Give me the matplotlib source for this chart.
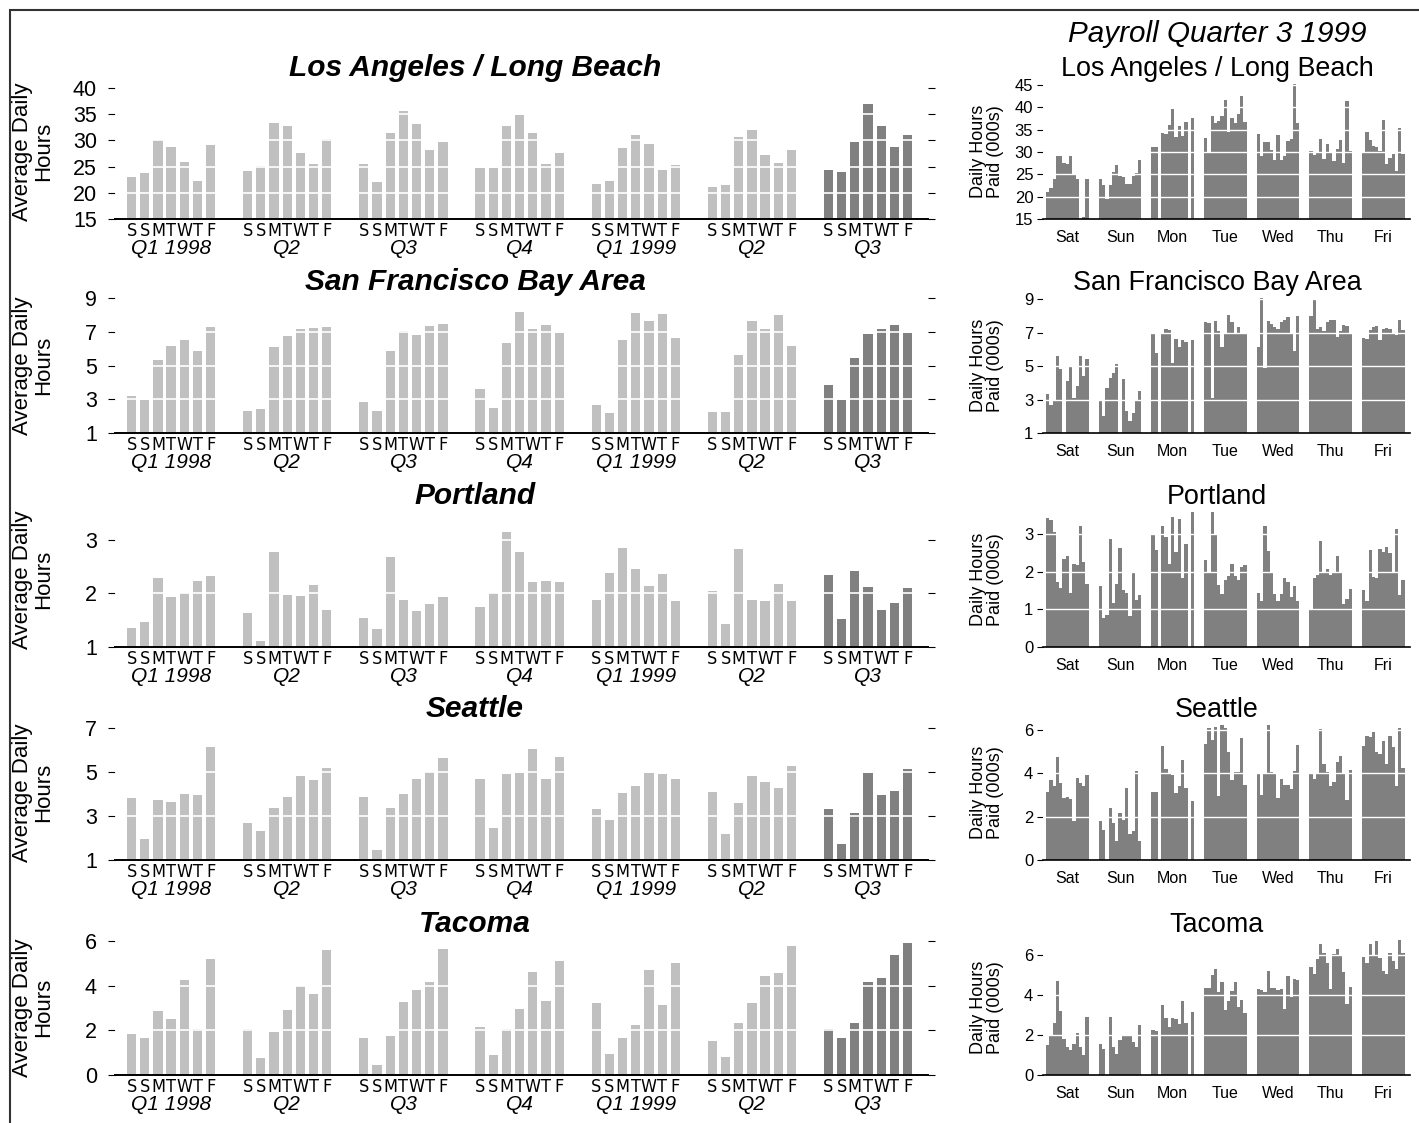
import matplotlib
matplotlib.use("Agg")
import matplotlib.pyplot as plt
from matplotlib.patches import Rectangle
import numpy as np

plt.rcParams['font.family'] = ['Liberation Sans', 'DejaVu Sans']

W, H = 1419, 1123

cities = ["Los Angeles / Long Beach", "San Francisco Bay Area", "Portland", "Seattle", "Tacoma"]
quarters = ["Q1 1998", "Q2", "Q3", "Q4", "Q1 1999", "Q2", "Q3"]
day_letters = ["S", "S", "M", "T", "W", "T", "F"]
day_names = ["Sat", "Sun", "Mon", "Tue", "Wed", "Thu", "Fri"]

# Quarterly average daily hours (one list of Sat..Fri per quarter)
la_quarterly = [
    [23.1, 23.7, 30.1, 28.7, 25.8, 22.3, 29.1],
    [24.2, 25.2, 33.3, 32.8, 27.6, 25.5, 30.2],
    [25.5, 22.1, 31.4, 35.6, 33.2, 28.1, 29.6],
    [24.8, 24.8, 32.7, 34.8, 31.5, 25.4, 27.6],
    [21.6, 22.3, 28.6, 31.1, 29.4, 24.4, 25.3],
    [21.2, 21.4, 30.7, 31.9, 27.2, 25.7, 28.2],
    [24.3, 23.9, 29.6, 36.9, 32.7, 28.7, 31.0],
]
sf_quarterly = [
    [3.22, 2.94, 5.33, 6.15, 6.51, 5.85, 7.31],
    [2.28, 2.40, 6.07, 6.73, 7.15, 7.23, 7.27],
    [2.86, 2.32, 5.85, 7.05, 6.81, 7.37, 7.47],
    [3.60, 2.46, 6.33, 8.17, 7.19, 7.39, 6.95],
    [2.64, 2.16, 6.49, 8.09, 7.63, 8.03, 6.65],
    [2.24, 2.24, 5.65, 7.63, 7.17, 7.99, 6.17],
    [3.87, 2.98, 5.47, 6.87, 7.15, 7.41, 6.93],
]
portland_quarterly = [
    [1.35, 1.47, 2.28, 1.94, 2.00, 2.24, 2.32],
    [1.63, 1.12, 2.77, 1.98, 1.95, 2.15, 1.70],
    [1.55, 1.33, 2.68, 1.87, 1.67, 1.80, 1.93],
    [1.75, 2.00, 3.15, 2.77, 2.22, 2.24, 2.21],
    [1.88, 2.38, 2.85, 2.45, 2.13, 2.37, 1.85],
    [2.05, 1.43, 2.83, 1.87, 1.85, 2.17, 1.85],
    [2.35, 1.53, 2.42, 2.12, 1.70, 1.83, 2.10],
]
seattle_quarterly = [
    [3.80, 1.95, 3.73, 3.62, 4.02, 3.97, 6.15],
    [2.70, 2.30, 3.38, 3.85, 4.80, 4.65, 5.20],
    [3.85, 1.45, 3.35, 4.00, 4.70, 4.98, 5.62],
    [4.68, 2.45, 4.90, 4.95, 6.05, 4.70, 5.68],
    [3.33, 2.80, 4.03, 4.38, 4.97, 4.92, 4.70],
    [4.10, 2.17, 3.58, 4.80, 4.55, 4.28, 5.28],
    [3.33, 1.72, 3.13, 4.95, 3.95, 4.12, 5.12],
]
tacoma_quarterly = [
    [1.85, 1.68, 2.85, 2.50, 4.25, 2.07, 5.18],
    [2.07, 0.75, 1.92, 2.90, 4.00, 3.62, 5.60],
    [1.65, 0.45, 1.73, 3.28, 3.80, 4.18, 5.65],
    [2.15, 0.88, 2.05, 2.98, 4.62, 3.30, 5.12],
    [3.22, 0.95, 1.65, 2.25, 4.72, 3.15, 5.00],
    [1.53, 0.80, 2.35, 3.22, 4.45, 4.55, 5.80],
    [2.07, 1.68, 2.35, 4.15, 4.35, 5.40, 5.90],
]

# Daily hours paid (000s), Q3 1999, 13 weeks per weekday (Sat..Fri)
la_daily = [
    [21.1, 21.9, 23.9, 29.1, 29.0, 27.5, 27.2, 29.1, 24.9, 23.9, 0, 15.4, 24.0],
    [23.9, 22.5, 19.5, 22.5, 25.5, 27.0, 24.6, 24.5, 22.9, 22.9, 24.6, 25.2, 28.1],
    [31.0, 31.2, 0, 34.2, 34.0, 36.0, 39.6, 33.3, 35.8, 33.5, 36.6, 0, 37.7],
    [33.1, 29.7, 38.0, 36.5, 37.0, 38.0, 41.6, 34.5, 37.5, 36.5, 38.6, 42.5, 36.6],
    [34.0, 29.0, 32.3, 32.3, 30.5, 28.3, 33.8, 28.2, 29.2, 32.5, 32.8, 45.1, 36.4],
    [30.3, 29.3, 30.0, 32.8, 28.5, 31.8, 30.0, 28.0, 30.7, 32.6, 27.6, 41.4, 30.3],
    [30.1, 34.5, 32.6, 31.3, 31.2, 30.2, 37.2, 27.4, 28.6, 29.5, 25.8, 35.4, 29.6],
]
sf_daily = [
    [3.3, 2.7, 3.0, 5.6, 4.8, 0, 4.1, 5.0, 3.1, 3.8, 5.6, 4.4, 5.4],
    [3.0, 2.0, 3.7, 4.3, 4.6, 5.1, 0, 4.2, 2.3, 1.7, 2.2, 2.9, 3.5],
    [6.95, 5.8, 0, 6.9, 7.2, 7.15, 5.2, 6.6, 6.15, 6.55, 6.45, 0, 6.55],
    [7.6, 7.55, 3.1, 7.7, 7.1, 6.15, 6.95, 8.05, 7.65, 7.0, 7.35, 6.9, 6.9],
    [6.15, 9.05, 4.9, 7.7, 7.5, 7.35, 7.2, 7.6, 7.75, 7.9, 6.9, 5.9, 8.0],
    [8.0, 8.95, 7.2, 7.3, 7.1, 7.65, 7.75, 7.75, 6.75, 7.1, 7.45, 7.4, 6.95],
    [6.7, 6.6, 7.15, 7.3, 7.4, 6.55, 7.2, 7.25, 7.2, 6.9, 6.85, 7.75, 7.15],
]
portland_daily = [
    [3.42, 3.37, 3.05, 1.73, 1.57, 2.33, 2.40, 1.44, 2.20, 2.18, 3.20, 2.25, 1.68],
    [1.63, 0.77, 0.85, 2.87, 1.18, 1.67, 2.62, 1.52, 1.42, 0.83, 2.00, 1.25, 1.38],
    [2.97, 2.57, 0, 3.22, 2.93, 2.20, 3.45, 2.52, 3.40, 1.82, 2.72, 0, 3.61],
    [2.30, 2.00, 3.57, 2.98, 1.65, 1.40, 1.77, 1.88, 2.20, 1.87, 1.77, 2.12, 2.18],
    [1.43, 1.22, 3.20, 2.55, 1.98, 1.41, 1.22, 1.41, 1.84, 1.73, 1.32, 1.61, 1.22],
    [0.98, 1.84, 1.92, 2.80, 1.97, 2.08, 1.90, 1.97, 2.42, 1.97, 1.15, 1.27, 1.53],
    [1.50, 1.22, 2.57, 1.85, 1.83, 2.59, 2.52, 2.64, 2.48, 2.00, 3.13, 1.37, 1.77],
]
seattle_daily = [
    [3.15, 3.70, 3.40, 4.77, 3.57, 2.85, 2.90, 2.80, 1.80, 3.80, 3.57, 3.40, 3.92],
    [1.80, 1.37, 0, 2.42, 1.73, 0.87, 2.16, 1.85, 3.33, 1.18, 1.33, 4.10, 0.87],
    [3.15, 3.12, 0, 5.25, 4.18, 3.95, 3.90, 3.10, 3.40, 4.60, 3.30, 0, 2.72],
    [5.37, 6.10, 5.55, 6.15, 2.95, 6.28, 6.10, 5.00, 3.68, 4.05, 4.05, 5.65, 3.45],
    [4.02, 3.02, 4.00, 6.28, 4.05, 3.95, 2.88, 3.75, 3.45, 3.47, 3.27, 4.10, 5.30],
    [3.98, 3.72, 3.98, 6.05, 4.45, 4.08, 3.43, 3.58, 4.50, 4.82, 4.00, 2.78, 4.15],
    [5.28, 5.72, 5.68, 5.90, 5.00, 4.88, 5.48, 4.45, 5.72, 5.20, 3.43, 6.08, 4.25],
]
tacoma_daily = [
    [1.50, 1.95, 2.62, 4.70, 3.20, 1.80, 1.38, 1.27, 1.55, 2.10, 1.40, 1.02, 2.88],
    [1.55, 1.30, 0, 2.90, 1.42, 1.07, 1.75, 1.93, 1.93, 1.93, 1.65, 1.38, 2.52],
    [2.27, 2.20, 0, 3.50, 2.85, 2.42, 2.85, 2.78, 2.55, 3.72, 2.62, 0, 3.15],
    [4.35, 4.37, 5.00, 5.30, 4.15, 4.65, 3.25, 3.68, 4.20, 4.65, 3.42, 3.77, 3.10],
    [4.30, 4.25, 4.15, 5.20, 4.35, 4.33, 4.25, 4.30, 3.30, 4.97, 3.90, 4.78, 4.77],
    [5.38, 5.07, 5.78, 6.55, 6.08, 5.60, 4.30, 6.05, 6.30, 6.00, 5.15, 3.55, 4.42],
    [5.88, 5.62, 6.55, 5.95, 6.68, 5.85, 5.22, 5.07, 6.12, 5.72, 5.28, 6.85, 6.12],
]

quarterly = [la_quarterly, sf_quarterly, portland_quarterly, seattle_quarterly, tacoma_quarterly]
daily = [la_daily, sf_daily, portland_daily, seattle_daily, tacoma_daily]

left_ylims = [(15, 40.76), (1, 9.0), (1, 3.52), (1, 7.14), (0, 6.05)]
left_ticks = [[15, 20, 25, 30, 35, 40], [1, 3, 5, 7, 9], [1, 2, 3], [1, 3, 5, 7], [0, 2, 4, 6]]
right_ylims = [(15, 45.2), (1, 9.06), (0, 3.58), (0, 6.23), (0, 6.75)]
right_ticks = [[15, 20, 25, 30, 35, 40, 45], [1, 3, 5, 7, 9], [0, 1, 2, 3], [0, 2, 4, 6], [0, 2, 4, 6]]

LIGHT = "#c0c0c0"
DARK = "#808080"

fig = plt.figure(figsize=(W / 100, H / 100), dpi=100)


def rect(x0, x1, top, bottom):
    return [x0 / W, 1 - bottom / H, (x1 - x0) / W, (bottom - top) / H]


row_bottoms = [219, 433, 647, 860, 1075]
AX_H = 135
GROUP_L = 8.8
GROUP_R = 16

for i, city in enumerate(cities):
    b = row_bottoms[i]
    # ---------------- left: quarterly averages
    ax = fig.add_axes(rect(115, 928, b - AX_H, b))
    centers = []
    for g, vals in enumerate(quarterly[i]):
        xs = g * GROUP_L + np.arange(7)
        centers.extend(xs)
        ax.bar(xs, vals, width=0.7, color=DARK if g == 6 else LIGHT,
               linewidth=0, zorder=2)
    ax.set_xlim(-1.25, 60.34)
    ax.set_ylim(*left_ylims[i])
    ax.set_yticks(left_ticks[i])
    ax.set_yticklabels([str(t) for t in left_ticks[i]], fontsize=15.5)
    for t in left_ticks[i][1:]:
        ax.axhline(t, color="white", lw=1.2, zorder=3)
    ax.set_xticks(centers)
    ax.set_xticklabels(day_letters * 7, fontsize=13, family="DejaVu Sans",
                       fontstretch="condensed")
    ax.tick_params(axis="x", length=0, pad=2)
    ax.tick_params(axis="y", left=True, right=True, labelright=False,
                   length=5, width=0.8, pad=8, direction="out")
    for s in ["top", "left", "right"]:
        ax.spines[s].set_visible(False)
    ax.spines["bottom"].set_linewidth(1.4)
    ax.spines["bottom"].set_zorder(4)
    for g, q in enumerate(quarters):
        ax.annotate(q, xy=(g * GROUP_L + 3, 0), xycoords=("data", "axes fraction"),
                    xytext=(0, -25), textcoords="offset points",
                    ha="center", va="baseline", fontsize=15, style="italic")
    fig.text(475 / W, 1 - (b - 143) / H, city, ha="center", va="baseline",
             fontsize=21.5, fontweight="bold", style="italic")
    fig.text(33 / W, 1 - (b - AX_H / 2) / H, "Average Daily\nHours", rotation=90,
             ha="center", va="center", fontsize=16, linespacing=1.0)

    # ---------------- right: daily values in Q3 1999
    axr = fig.add_axes(rect(1043, 1410, b - AX_H, b))
    for g, vals in enumerate(daily[i]):
        xs = g * GROUP_R + np.arange(13)
        axr.bar(xs, vals, width=1.0, color=DARK, linewidth=0, zorder=2)
    axr.set_xlim(-1.41, 110.1)
    axr.set_ylim(*right_ylims[i])
    axr.set_yticks(right_ticks[i])
    axr.set_yticklabels([str(t) for t in right_ticks[i]], fontsize=12)
    for t in right_ticks[i][1:]:
        axr.axhline(t, color="white", lw=1.0, zorder=3)
    axr.set_xticks([g * GROUP_R + 6 for g in range(7)])
    axr.set_xticklabels(day_names, fontsize=11.5)
    axr.tick_params(axis="x", length=0, pad=8)
    axr.tick_params(axis="y", length=4, width=0.8, pad=3)
    for s in ["top", "left", "right"]:
        axr.spines[s].set_visible(False)
    axr.spines["bottom"].set_linewidth(1.2)
    axr.spines["bottom"].set_zorder(4)
    fig.text(1217 / W, 1 - (b - 143) / H, city, ha="center", va="baseline",
             fontsize=19.4)
    fig.text(987 / W, 1 - (b - AX_H / 2) / H, "Daily Hours\nPaid (000s)", rotation=90,
             ha="center", va="center", fontsize=13, linespacing=1.0)

fig.text(1217 / W, 1 - 42 / H, "Payroll Quarter 3 1999", ha="center", va="baseline",
         fontsize=21.3, style="italic")

fig.add_artist(Rectangle((10 / W, -0.1), 2, 1.1 - 10 / H, fill=False,
                         edgecolor="#333333", lw=1.5, transform=fig.transFigure))

fig.savefig("out.png", dpi=100)
